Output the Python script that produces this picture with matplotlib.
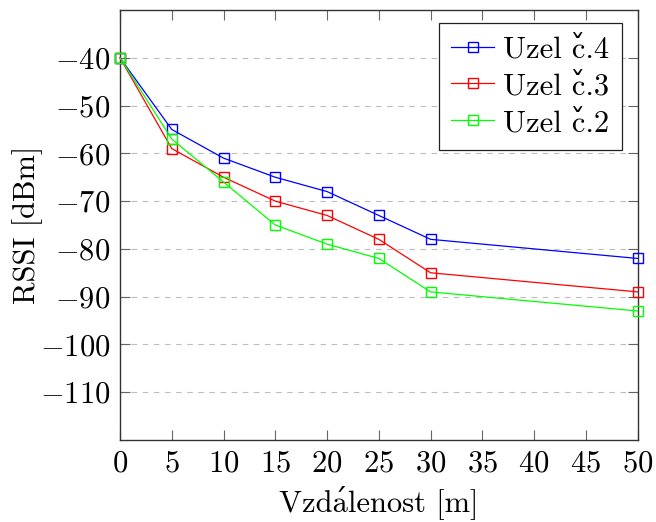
import matplotlib
matplotlib.use("Agg")
import matplotlib.pyplot as plt

plt.rcParams['font.family'] = ['cmr10', 'DejaVu Serif']
plt.rcParams['mathtext.fontset'] = 'cm'
plt.rcParams['axes.formatter.use_mathtext'] = True
plt.rcParams['font.size'] = 22

distance = [0, 5, 10, 15, 20, 25, 30, 50]
uzel4 = [-40, -55, -61, -65, -68, -73, -78, -82]
uzel3 = [-40, -59, -65, -70, -73, -78, -85, -89]
uzel2 = [-40, -57, -66, -75, -79, -82, -89, -93]
labels = ['Uzel c\u030c.4', 'Uzel c\u030c.3', 'Uzel c\u030c.2']
xlabel = 'Vzda\u0301lenost [m]'
ylabel = 'RSSI [dBm]'
xticks = [0, 5, 10, 15, 20, 25, 30, 35, 40, 45, 50]
yticks = [-110, -100, -90, -80, -70, -60, -50, -40]

fig = plt.figure(figsize=(6.56, 5.22), dpi=100)
ax = fig.add_axes([0.1829, 0.1571, 0.9721 - 0.1829, 0.9808 - 0.1571])

for ys, c, lab in zip([uzel4, uzel3, uzel2], ['#0000ff', '#ff0000', '#00ff00'], labels):
    ax.plot(distance, ys, color=c, lw=0.9, marker='s', markersize=7.5,
            markerfacecolor='none', markeredgecolor=c, markeredgewidth=1.0, label=lab,
            clip_on=False, zorder=3)

ax.set_xlim(0, 50)
ax.set_ylim(-120, -30)
ax.set_xticks(xticks)
ax.set_yticks(yticks)
ax.yaxis.grid(True, linestyle=(0, (5, 5)), color='#bdbdbd', lw=0.8)
ax.set_axisbelow(True)
ax.tick_params(direction='in', top=True, right=True, length=7.5, width=0.8, color='#666666',
               labelsize=22, pad=7)
for s in ax.spines.values():
    s.set_color('#333333')
    s.set_linewidth(1.0)
    s.set_zorder(2.5)

ax.set_xlabel(xlabel, fontsize=22, labelpad=6)
ax.set_ylabel(ylabel, fontsize=22)
ax.yaxis.set_label_coords(-0.149, 0.5)

leg = ax.legend(loc='upper right', fancybox=False, framealpha=1, edgecolor='#222222',
                fontsize=22, handlelength=1.4, borderpad=0.42, labelspacing=0.31,
                handletextpad=0.28, borderaxespad=0, bbox_to_anchor=(0.969, 0.9698))
leg.get_frame().set_linewidth(0.9)
leg.set_zorder(5)

fig.savefig('out.png', dpi=100)
